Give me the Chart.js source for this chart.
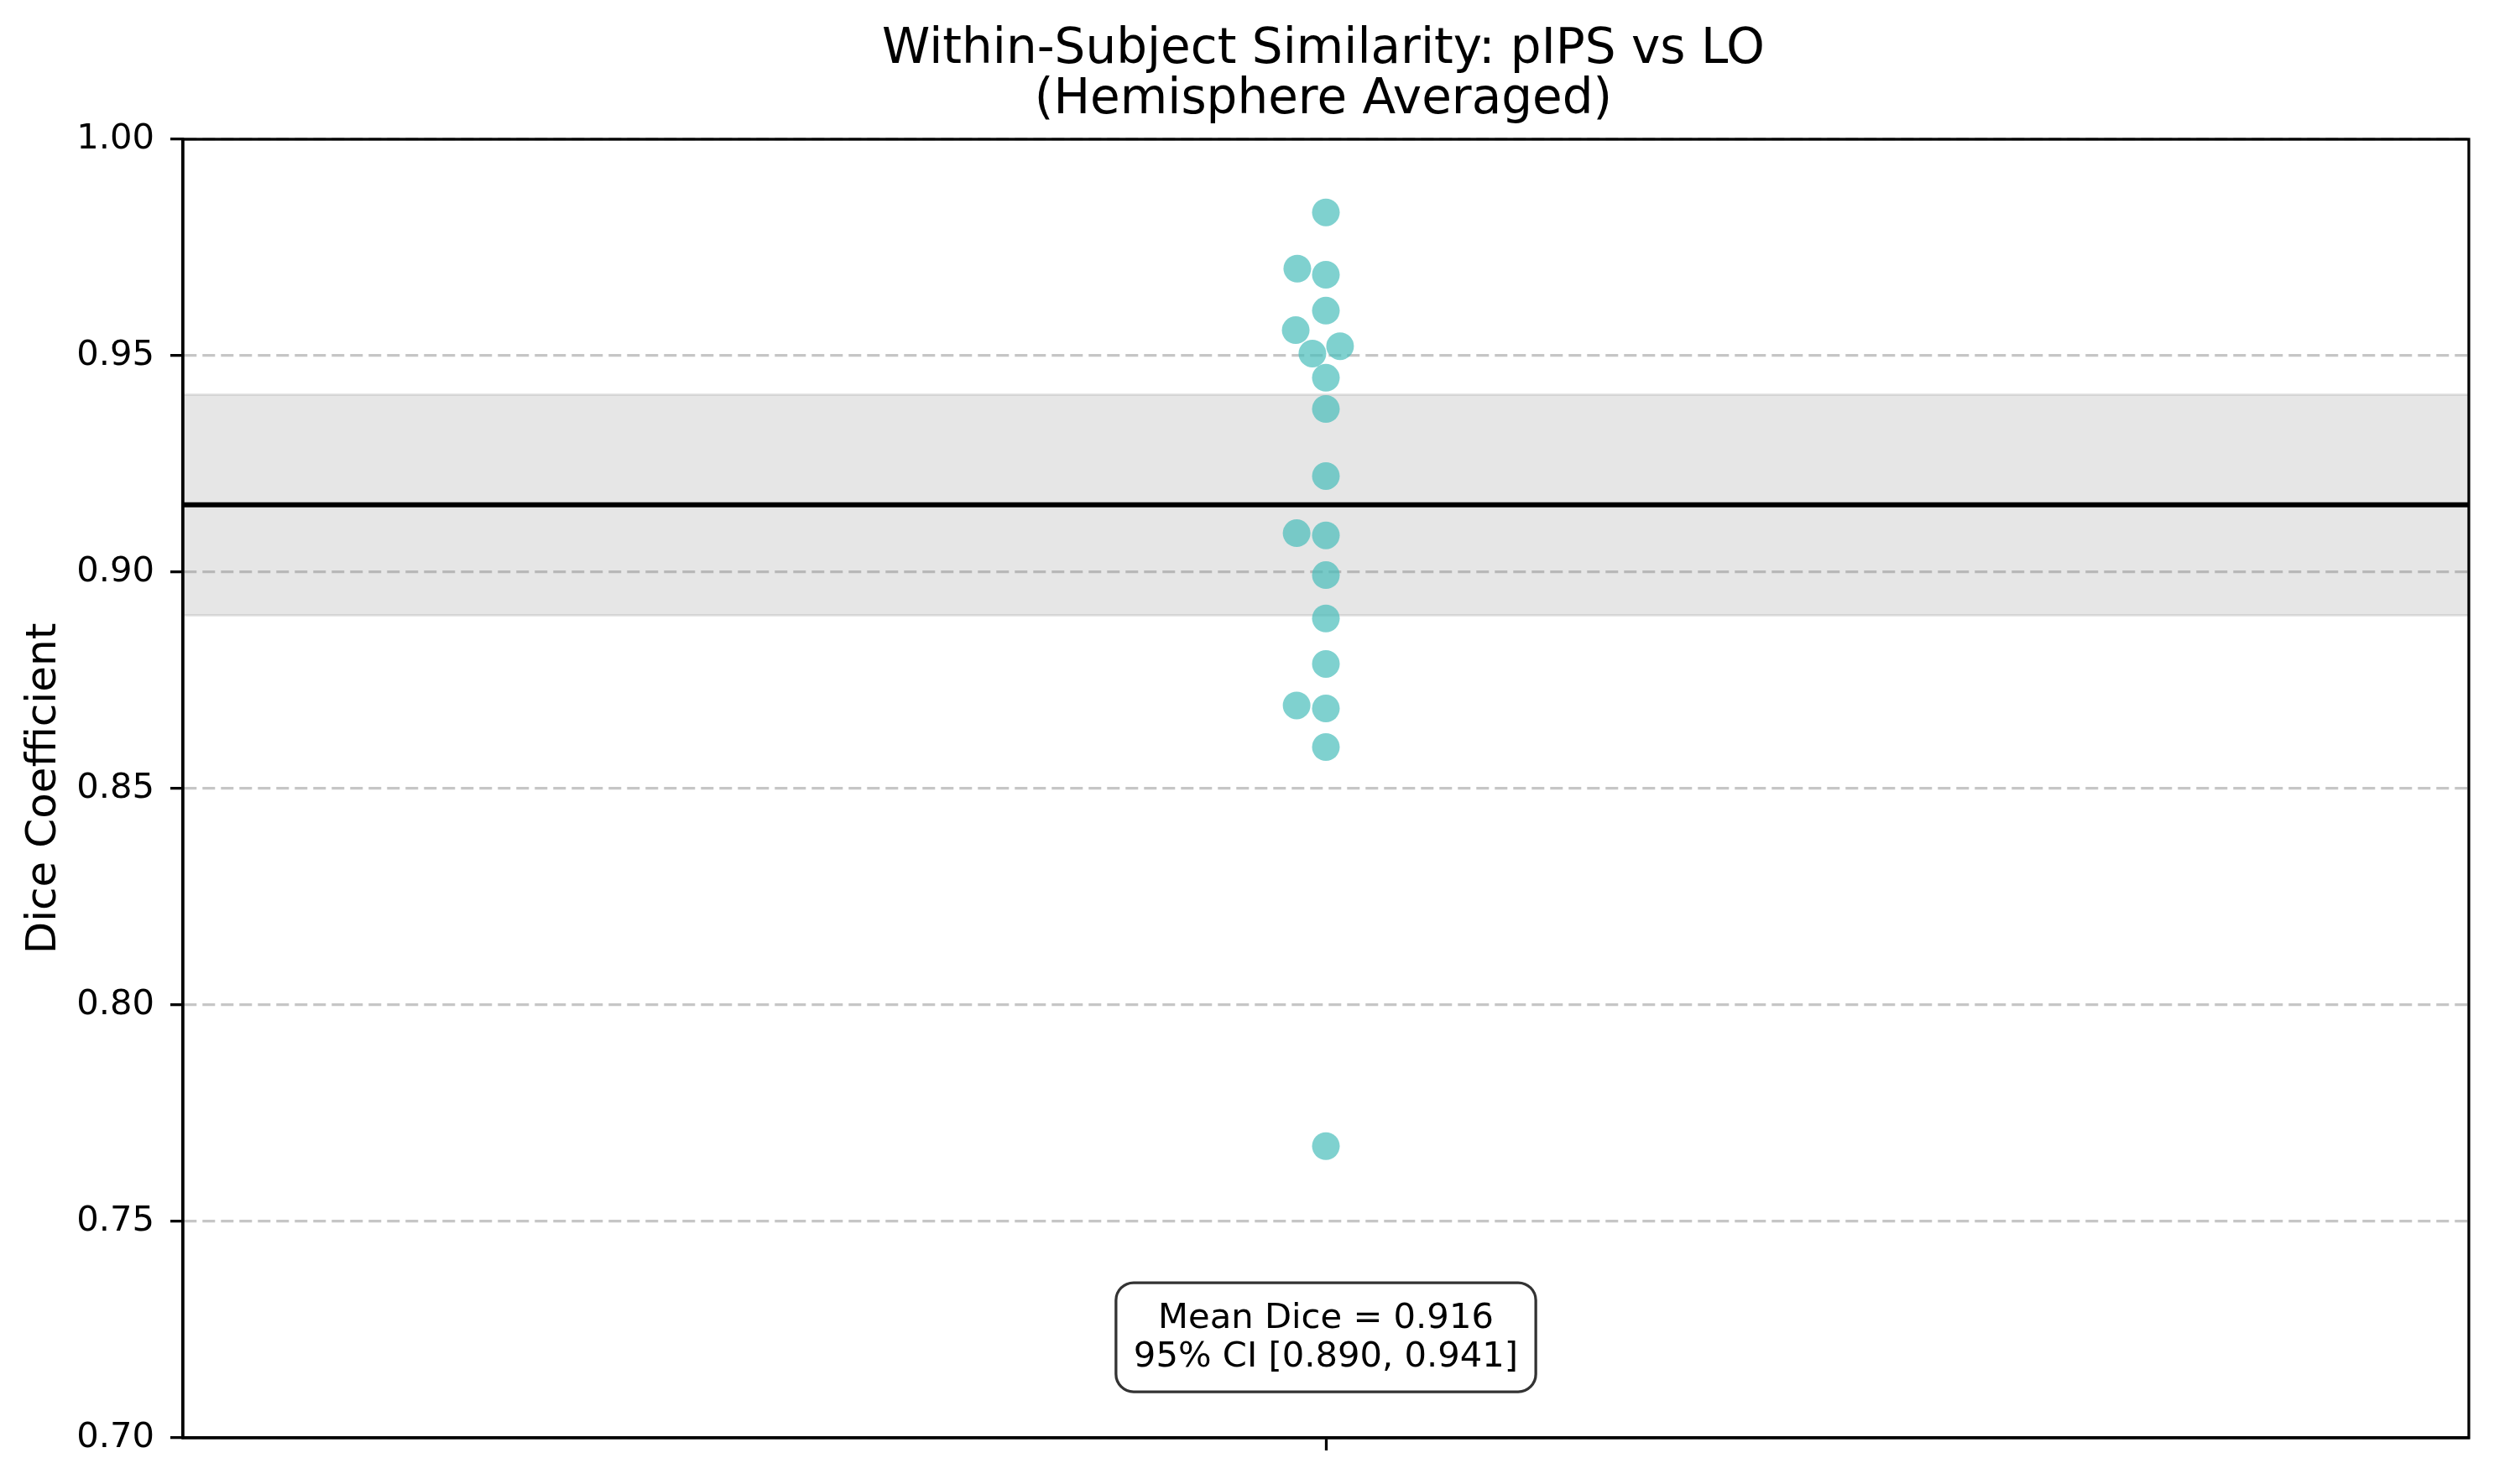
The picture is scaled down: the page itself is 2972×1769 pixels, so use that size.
<!DOCTYPE html>
<html>
<head>
<meta charset="utf-8">
<title>Within-Subject Similarity: pIPS vs LO</title>
<script src="https://cdn.jsdelivr.net/npm/chart.js@4.4.1/dist/chart.umd.min.js"></script>
<style>
    html, body { margin: 0; padding: 0; background: #fff; }
    canvas { display: block; }
</style>
</head>
<body>
<canvas id="diceChart" width="2972" height="1769"></canvas>
<script>
/**
 * Within-subject Dice similarity, pIPS vs LO (hemisphere averaged)
 */

// Dice per subject and swarm offsets along x
const diceValues = [0.9831, 0.9701, 0.9687, 0.9604, 0.9559, 0.9522, 0.9505, 0.9449, 0.9377, 0.9222,
    0.9090, 0.9085, 0.8993, 0.8893, 0.8788, 0.8692, 0.8685, 0.8596, 0.7674];
const swarmOffsets = [0, -0.0125, 0, 0, -0.0132, 0.0062, -0.0059, 0, 0, 0,
    -0.0128, 0, 0, 0, 0, -0.0128, 0, 0, 0];

// 95% confidence interval of the mean
const ciBounds = [0.890, 0.941];

// Axis ticks
const yTicks = [0.70, 0.75, 0.80, 0.85, 0.90, 0.95, 1.00];
const xRange = [-0.5, 0.5];

const titleLines = ['Within-Subject Similarity: pIPS vs LO', '(Hemisphere Averaged)'];

const FONT = "'DejaVu Sans', 'Liberation Sans', sans-serif";
const meanDice = diceValues.reduce((a, b) => a + b, 0) / diceValues.length;

// Title, frame and the mean/CI text box
const decorations = {
    id: 'decorations',
    afterDatasetsDraw(chart) {
        const { ctx, chartArea: a } = chart;
        ctx.save();
        ctx.strokeStyle = '#000';
        ctx.lineWidth = 3.3;
        ctx.strokeRect(a.left, a.top, a.right - a.left, a.bottom - a.top);
        ctx.restore();
    },
    afterDraw(chart) {
        const { ctx, chartArea: a } = chart;
        const cx = chart.scales.x.getPixelForValue(0);

        ctx.save();
        ctx.fillStyle = '#000';
        ctx.textAlign = 'center';
        ctx.textBaseline = 'alphabetic';
        ctx.font = '58px ' + FONT;
        ctx.fillText(titleLines[0], (a.left + a.right) / 2 - 3, 75);
        ctx.fillText(titleLines[1], (a.left + a.right) / 2 - 3, 135);

        // stats box
        const lines = [
            'Mean Dice = ' + meanDice.toFixed(3),
            '95% CI [' + ciBounds[0].toFixed(3) + ', ' + ciBounds[1].toFixed(3) + ']'
        ];
        ctx.font = '41.7px ' + FONT;
        const w = Math.max(...lines.map(l => ctx.measureText(l).width)) + 42;
        const h = 130;
        const cy = a.bottom - 0.0775 * (a.bottom - a.top);
        ctx.beginPath();
        ctx.roundRect(cx - w / 2, cy - h / 2, w, h, 21);
        ctx.fillStyle = 'rgba(255,255,255,0.8)';
        ctx.fill();
        ctx.lineWidth = 3.3;
        ctx.strokeStyle = 'rgba(0,0,0,0.8)';
        ctx.stroke();
        ctx.fillStyle = '#000';
        ctx.fillText(lines[0], cx, cy - 11);
        ctx.fillText(lines[1], cx, cy + 35);
        ctx.restore();
    }
};

const ctx = document.getElementById('diceChart');

new Chart(ctx, {
    type: 'scatter',
    data: {
        datasets: [
            {
                label: 'Subjects',
                data: diceValues.map((v, i) => ({ x: swarmOffsets[i], y: v })),
                backgroundColor: 'rgba(72, 190, 187, 0.7)',
                borderWidth: 0,
                pointRadius: 16.5,
                pointHoverRadius: 16.5,
                order: 0
            },
            {
                type: 'line',
                label: 'Mean',
                data: xRange.map(x => ({ x: x, y: meanDice })),
                borderColor: '#000',
                borderWidth: 6,
                pointRadius: 0,
                fill: false,
                order: 1
            },
            {
                type: 'line',
                label: 'CI upper',
                data: xRange.map(x => ({ x: x, y: ciBounds[1] })),
                borderColor: 'rgba(128,128,128,0.2)',
                borderWidth: 3,
                backgroundColor: 'rgba(128,128,128,0.2)',
                pointRadius: 0,
                fill: '+1',
                order: 2
            },
            {
                type: 'line',
                label: 'CI lower',
                data: xRange.map(x => ({ x: x, y: ciBounds[0] })),
                borderColor: 'rgba(128,128,128,0.2)',
                borderWidth: 3,
                pointRadius: 0,
                fill: false,
                order: 3
            }
        ]
    },
    options: {
        responsive: false,
        devicePixelRatio: 1,
        animation: false,
        events: [],
        layout: {
            padding: { top: 166, right: 30, bottom: 0, left: 0 }
        },
        plugins: {
            legend: { display: false },
            tooltip: { enabled: false },
            title: { display: false }
        },
        scales: {
            x: {
                type: 'linear',
                min: xRange[0],
                max: xRange[1],
                afterBuildTicks: (scale) => { scale.ticks = [{ value: 0 }]; },
                afterFit: (scale) => { scale.height = 55; },
                ticks: { display: false },
                grid: {
                    drawOnChartArea: false,
                    drawTicks: true,
                    tickLength: 15,
                    tickColor: '#000',
                    tickWidth: 3.3
                },
                border: { display: true, color: '#000', width: 3.3 }
            },
            y: {
                type: 'linear',
                min: yTicks[0],
                max: yTicks[yTicks.length - 1],
                afterBuildTicks: (scale) => { scale.ticks = yTicks.map(v => ({ value: v })); },
                afterFit: (scale) => { scale.width = 218; },
                ticks: {
                    color: '#000',
                    padding: 19,
                    font: { family: FONT, size: 41.7 },
                    callback: (v) => Number(v).toFixed(2)
                },
                grid: {
                    color: '#c6c6c6',
                    lineWidth: 3.3,
                    tickLength: 15,
                    tickColor: '#000',
                    tickWidth: 3.3,
                    tickBorderDash: []
                },
                border: { display: true, color: '#000', width: 3.3, dash: [15, 7] },
                title: {
                    display: true,
                    text: 'Dice Coefficient',
                    color: '#000',
                    font: { family: FONT, size: 50 },
                    padding: { top: 23, bottom: 0 }
                }
            }
        }
    },
    plugins: [decorations]
});
</script>
</body>
</html>
